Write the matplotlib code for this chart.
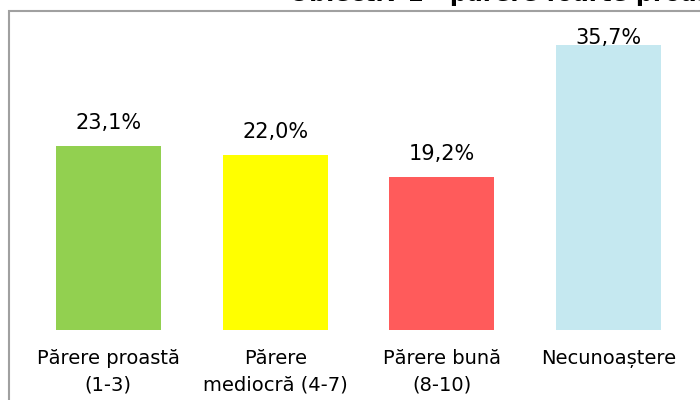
import matplotlib.pyplot as plt
from matplotlib.patches import Rectangle

categories = ["Părere proastă\n(1-3)", "Părere\nmediocră (4-7)", "Părere bună\n(8-10)", "Necunoaștere"]
values = [23.1, 22.0, 19.2, 35.7]
colors = ["#92D050", "#FFFF00", "#FF5B5B", "#C5E8F0"]
title = "Obiectiv 1 - părere foarte proastă"

fig = plt.figure(figsize=(7, 4), dpi=100)
W, H = 700, 400

# chart frame, cropped on right and bottom
fig.patches.append(Rectangle((9 / W, -0.1), 1.2, 1 - 11 / H + 0.1,
                             transform=fig.transFigure, fill=False,
                             edgecolor="#A0A0A0", linewidth=1.5))

# title is mostly cut off by the top edge in the reference
fig.text(289 / W, 1 - 1.5 / H, title, fontsize=17, fontweight="bold",
         ha="left", va="baseline")

ax = fig.add_axes([25 / W, 1 - 330 / H, 667 / W, 319 / H])
x = range(len(values))
bars = ax.bar(x, values, width=0.63, color=colors)
ax.set_xlim(-0.5, 3.5)
ax.set_ylim(0, 40)

top_limit = 35.85  # labels are kept inside the plot area
for b, v in zip(bars, values):
    y = min(v + 2.13, top_limit)
    ax.text(b.get_x() + b.get_width() / 2, y, f"{v:.1f}%".replace(".", ","),
            ha="center", va="baseline", fontsize=15)

ax.set_xticks(list(x))
ax.set_xticklabels(categories, fontsize=14, linespacing=1.5)
ax.tick_params(axis="x", length=0, pad=14)
ax.set_yticks([])
for s in ax.spines.values():
    s.set_visible(False)

fig.savefig("out.png", dpi=100)
